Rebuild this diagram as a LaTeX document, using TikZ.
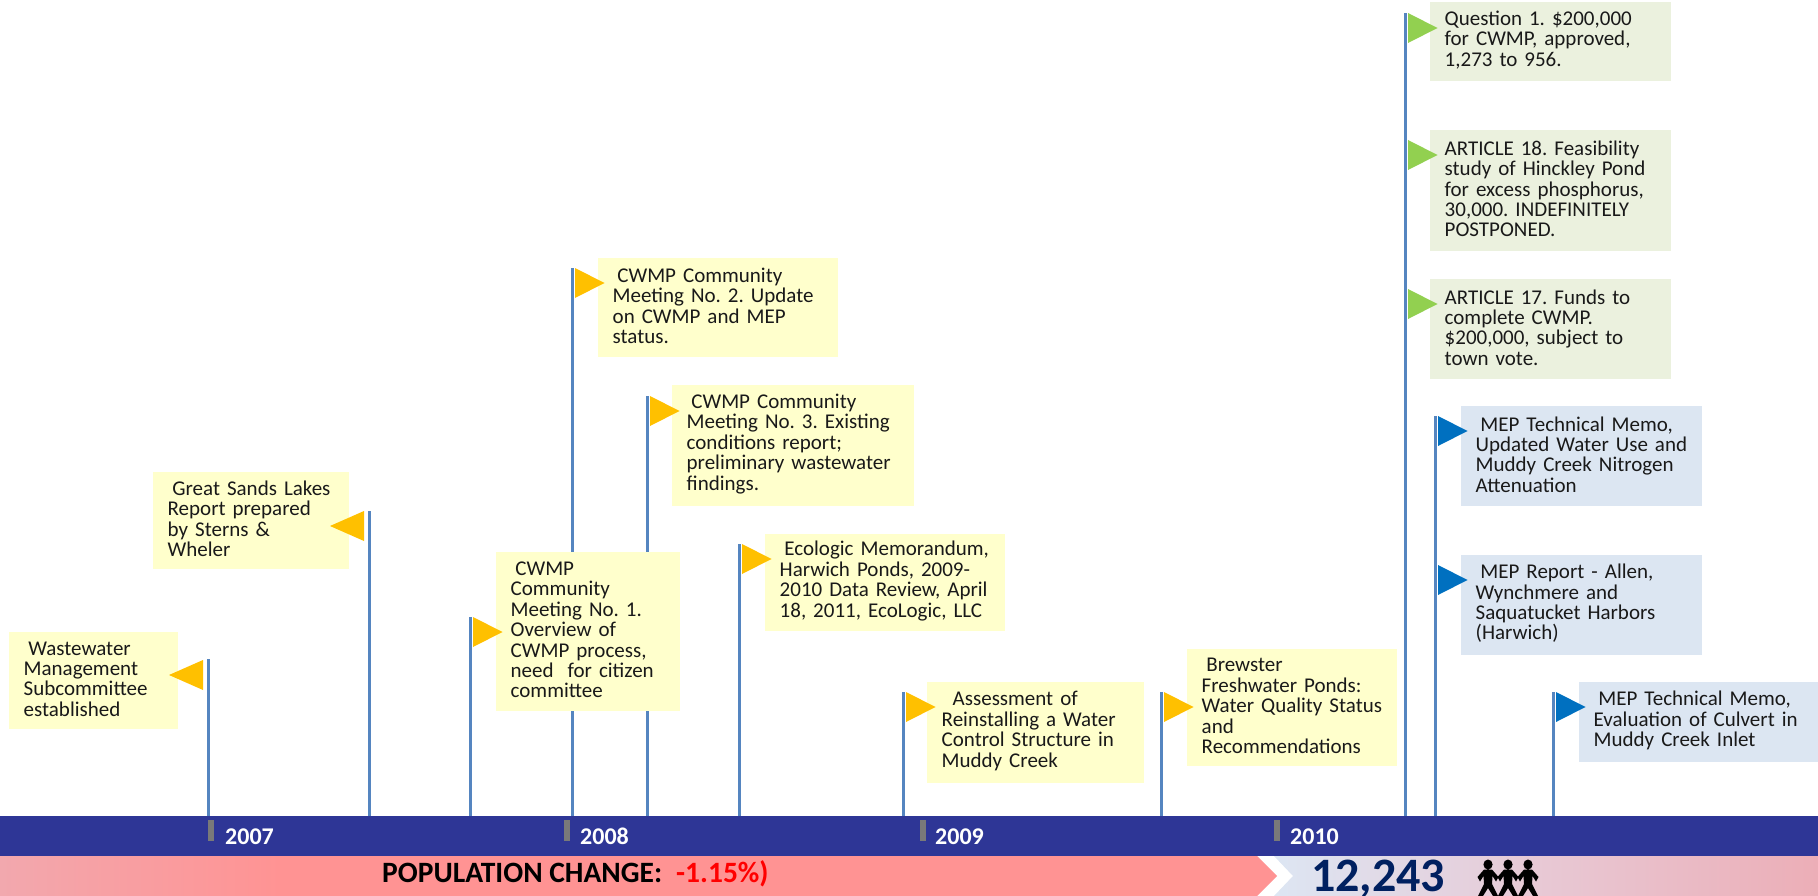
\documentclass[tikz,border=0pt]{standalone}
\usepackage{fontspec}
\setmainfont{Carlito}
\definecolor{polec}{HTML}{5585C0}
\definecolor{yell}{HTML}{FFFFCC}
\definecolor{sage}{HTML}{EBF1DE}
\definecolor{lblue}{HTML}{DCE6F2}
\definecolor{amber}{HTML}{FFC000}
\definecolor{grn}{HTML}{92D050}
\definecolor{blu}{HTML}{0070C0}
\definecolor{navy}{HTML}{2E3696}
\definecolor{dnavy}{HTML}{002060}
\definecolor{pinka}{HTML}{F2A8AE}
\definecolor{pinkb}{HTML}{FF9393}
\definecolor{rosea}{HTML}{DDE6F3}
\definecolor{rosem}{HTML}{E8C8D4}
\definecolor{roseb}{HTML}{ECAEB7}
\pgfdeclarehorizontalshading{pinkbar}{100bp}{color(0bp)=(pinka); color(25bp)=(pinka); color(36bp)=(pinkb); color(100bp)=(pinkb)}
\pgfdeclarehorizontalshading{rosebar}{100bp}{color(0bp)=(rosea); color(25bp)=(rosea); color(50bp)=(rosem); color(75bp)=(roseb); color(100bp)=(roseb)}
\newcommand{\ind}{\kern4.7pt\relax}
\newcommand{\indd}{\kern11pt\relax}
\tikzset{
 x=1pt,y=-1pt,
 boxbase/.style={anchor=north west,inner xsep=0pt,inner ysep=0pt,align=left,
   font=\fontsize{21}{20.4}\selectfont\frenchspacing,text=black!90,
   execute at begin node={\leftskip=14.5pt\hyphenpenalty=10000\relax},
   execute at end node={\par\vspace{3.5pt}}},
 ybox/.style={boxbase,fill=yell},
 gbox/.style={boxbase,fill=sage},
 bbox/.style={boxbase,fill=lblue},
 pole/.style={draw=polec,line width=3.4pt},
 yeartext/.style={font=\fontsize{24}{28}\bfseries\selectfont,text=white,anchor=base west,inner sep=0pt},
 tick/.style={fill=gray!95!black,draw=none},
}
% name, left, top, width, height, style, text
\newcommand{\tbox}[7]{\node[#6,minimum width=#4pt,text width=#4pt,minimum height=#5pt] (#1) at (#2,#3) {#7};}
\newcommand{\flagR}[4]{\fill[#4] (#2,#3) -- ++(29.5,15) -- ++(-29.5,15) -- cycle;}
\newcommand{\flagL}[4]{\fill[#4] (#2,#3) -- ++(-34,15) -- ++(34,15) -- cycle;}
\newcommand{\doll}[1]{%
 \fill[black,shift={(#1,0)}] (0,864.5) circle[x radius=4.6,y radius=5]
  (-4,869.5) -- (4,869.5) -- (10.5,877) -- (8,881.5) -- (4.5,876) -- (4,884) -- (10,896) -- (5,896) -- (0,888) -- (-5,896) -- (-10,896) -- (-4,884) -- (-4.5,876) -- (-8,881.5) -- (-10.5,877) -- cycle;}
\begin{document}
\begin{tikzpicture}
\useasboundingbox (0,0) rectangle (1818,896);
% poles
\foreach \n/\x/\t in {a/208.7/659,b/369.3/511,c/470.4/617,d/572.4/268,e/647.4/396,f/739.4/544,g/903.3/692,h/1161.3/692,i/1405.3/13,j/1435.3/416,k/1553.3/692}{
 \coordinate (t\n) at (\x,\t);
 \coordinate (b\n) at (\x,816);
 \draw[pole] (b\n) -- (t\n);
}
% boxes
\tbox{wm}{9}{632}{169}{97}{ybox}{\ind Wastewater\\Management\\Subcommittee\\established}
\tbox{gs}{153}{472}{196}{97}{ybox}{\ind Great Sands Lakes\\Report prepared\\by Sterns \&\\Wheler}
\tbox{m1}{496}{552}{184}{159}{ybox}{\ind CWMP\\Community\\Meeting No. 1.\\Overview of\\CWMP process,\\need\ \ for citizen\\committee}
\tbox{m2}{598}{258}{240}{99}{ybox}{\ind CWMP Community\\Meeting No. 2. Update\\on CWMP and MEP\\status.}
\tbox{m3}{672}{385}{242}{121}{ybox}{\ind CWMP Community\\Meeting No. 3. Existing\\conditions report;\\preliminary wastewater\\findings.}
\tbox{ec}{765}{534}{240}{97}{ybox}{\ind Ecologic Memorandum,\\Harwich Ponds, 2009-\\2010 Data Review, April\\18, 2011, EcoLogic, LLC}
\tbox{as}{927}{682}{217}{101}{ybox}{\indd Assessment of\\Reinstalling a Water\\Control Structure in\\Muddy Creek}
\tbox{br}{1187}{649}{210}{117}{ybox}{\ind Brewster\\Freshwater Ponds:\\Water Quality Status\\and\\Recommendations}
\tbox{q1}{1430}{2}{241}{79}{gbox}{Question 1. \$200,000\\for CWMP, approved,\\1,273 to 956.}
\tbox{a18}{1430}{130}{241}{121}{gbox}{ARTICLE 18. Feasibility\\study of Hinckley Pond\\for excess phosphorus,\\30,000. INDEFINITELY\\POSTPONED.}
\tbox{a17}{1430}{279}{241}{100}{gbox}{ARTICLE 17. Funds to\\complete CWMP.\\\$200,000, subject to\\town vote.}
\tbox{t1}{1461}{406}{241}{100}{bbox}{\ind MEP Technical Memo,\\Updated Water Use and\\Muddy Creek Nitrogen\\Attenuation}
\tbox{t2}{1461}{555}{241}{100}{bbox}{\ind MEP Report - Allen,\\Wynchmere and\\Saquatucket Harbors\\(Harwich)}
\tbox{t3}{1579}{682}{239}{80}{bbox}{\ind MEP Technical Memo,\\Evaluation of Culvert in\\Muddy Creek Inlet}
% flags
\flagL{}{203}{660}{amber}
\flagL{}{364}{511}{amber}
\flagR{}{473}{617}{amber}
\flagR{}{575}{268}{amber}
\flagR{}{650}{396}{amber}
\flagR{}{742}{544}{amber}
\flagR{}{906}{692}{amber}
\flagR{}{1164}{692}{amber}
\flagR{}{1408}{13}{grn}
\flagR{}{1408}{140}{grn}
\flagR{}{1408}{289}{grn}
\flagR{}{1438}{416}{blu}
\flagR{}{1438}{565}{blu}
\flagR{}{1556}{692}{blu}
% bars
\fill[navy] (0,816) rectangle (1818,856);
\fill[tick] (208,820) rectangle (213.5,841);
\fill[tick] (564,820) rectangle (569.5,841);
\fill[tick] (920,820) rectangle (925.5,841);
\fill[tick] (1274,820) rectangle (1279.5,841);
\node[yeartext] (y7) at (225,844) {2007};
\node[yeartext] (y8) at (580,844) {2008};
\node[yeartext] (y9) at (935,844) {2009};
\node[yeartext] (y10) at (1290,844) {2010};
\shade[shading=pinkbar] (0,856) -- (1257,856) -- (1277,876) -- (1257,896) -- (0,896) -- cycle;
\shade[shading=rosebar] (1274,856) -- (1818,856) -- (1818,896) -- (1274,896) -- (1293,876) -- cycle;
\node[anchor=base west,inner sep=0pt,font=\fontsize{29.5}{32}\bfseries\selectfont] (pc) at (382,882) {POPULATION CHANGE:};
\node[anchor=base west,inner sep=0pt,font=\fontsize{29.5}{32}\bfseries\selectfont,text=red] (pv) at (676,882) {-1.15\%)};
\node[anchor=base west,inner sep=0pt,font=\fontsize{48}{50}\bfseries\selectfont,text=dnavy] (pop) at (1311,891) {12,243};
\begin{scope}
\clip (1470,856) rectangle (1545,896);
\doll{1488}\doll{1508}\doll{1528}
\end{scope}
\end{tikzpicture}
\end{document}
